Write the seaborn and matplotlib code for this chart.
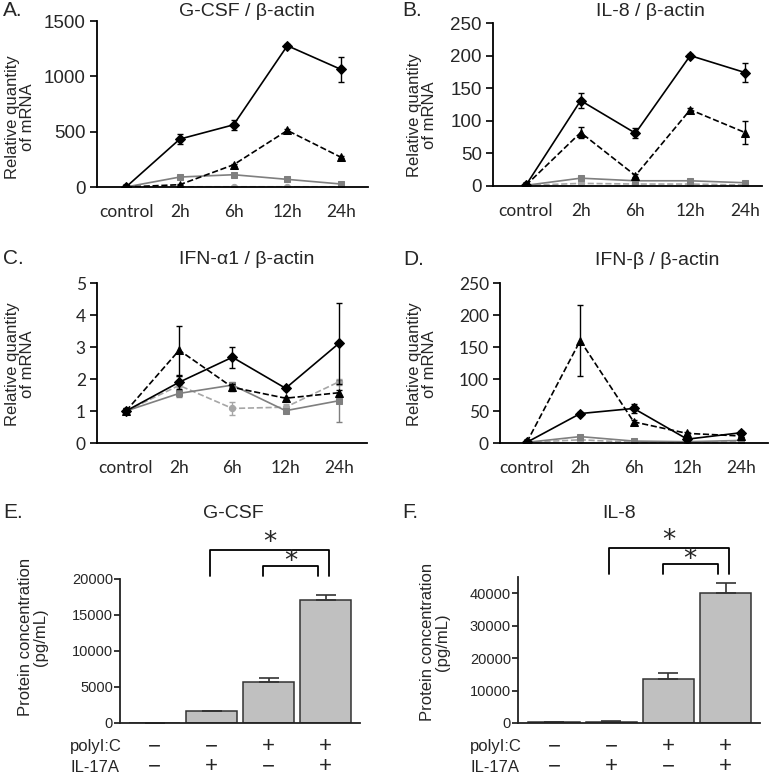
import numpy as np
import matplotlib
matplotlib.use("Agg")
import matplotlib.pyplot as plt
import matplotlib.transforms as mtransforms
import seaborn as sns

sns.set_theme(style="ticks")
plt.rcParams["font.family"] = ["Liberation Sans", "DejaVu Sans"]

# ---- data -------------------------------------------------------------
timepoints = ["control", "2h", "6h", "12h", "24h"]

# A. G-CSF / beta-actin (mRNA)
gcsf_combo = [0, 433, 562, 1277, 1062]
gcsf_combo_err = [5, 45, 45, 15, 115]
gcsf_polyic = [0, 21, 201, 511, 268]
gcsf_polyic_err = [2, 6, 8, 10, 8]
gcsf_il17 = [0, 90, 111, 69, 27]
gcsf_il17_err = [2, 6, 6, 5, 4]
gcsf_medium = [0, 2, 2, 2, 2]
gcsf_medium_err = [1, 1, 1, 1, 1]

# B. IL-8 / beta-actin (mRNA)
il8_combo = [1, 131, 81, 200, 174]
il8_combo_err = [0.5, 12, 8, 2, 14]
il8_polyic = [1, 82, 16, 117, 82]
il8_polyic_err = [0.5, 9, 2, 2, 17]
il8_il17 = [1, 12, 8, 8, 5]
il8_il17_err = [0.5, 2, 1, 1, 1]
il8_medium = [1, 4, 3, 3, 1.5]
il8_medium_err = [0.5, 1, 1, 1, 0.5]

# C. IFN-alpha1 / beta-actin (mRNA)
ifna_combo = [1.0, 1.90, 2.68, 1.71, 3.11]
ifna_combo_err = [0.1, 0.2, 0.33, 0.05, 1.27]
ifna_polyic = [1.0, 2.90, 1.74, 1.40, 1.57]
ifna_polyic_err = [0.05, 0.77, 0.1, 0.05, 0.1]
ifna_il17 = [1.0, 1.55, 1.81, 1.01, 1.32]
ifna_il17_err = [0.05, 0.1, 0.1, 0.05, 0.65]
ifna_medium = [1.0, 1.80, 1.08, 1.12, 1.91]
ifna_medium_err = [0.05, 0.3, 0.2, 0.1, 0.1]

# D. IFN-beta / beta-actin (mRNA)
ifnb_combo = [1, 46, 54, 6, 16]
ifnb_combo_err = [0.5, 2, 7, 1, 2]
ifnb_polyic = [1, 160, 33, 15, 11]
ifnb_polyic_err = [0.5, 56, 3, 2, 2]
ifnb_il17 = [1, 10, 3, 2, 4]
ifnb_il17_err = [0.5, 1, 1, 0.5, 1]
ifnb_medium = [1, 5, 1, 1, 2]
ifnb_medium_err = [0.5, 1, 0.5, 0.5, 0.5]

# E/F. protein (pg/mL)
conditions = ["medium", "IL-17A", "polyI:C", "polyI:C+IL-17A"]
polyic_sign = ["\u2212", "\u2212", "+", "+"]
il17_sign = ["\u2212", "+", "\u2212", "+"]
gcsf_protein = [30, 1600, 5650, 17050]
gcsf_protein_err = [0, 60, 600, 700]
il8_protein = [250, 400, 13450, 40100]
il8_protein_err = [100, 100, 1850, 3100]

# ---- styles -----------------------------------------------------------
# (color, linestyle, marker, markersize) for medium, IL-17A, polyI:C, combo
line_styles = [
    ("#a6a6a6", "--", "o", 4.5),
    ("#7f7f7f", "-", "s", 5),
    ("black", "--", "^", 5.5),
    ("black", "-", "D", 5),
]

W, H = 774, 780


def fx(px):
    return px / W


def fy(py):
    return 1 - py / H


def rect(l, r, t, b):
    return [fx(l), fy(b), (r - l) / W, (b - t) / H]


fig = plt.figure(figsize=(W / 100, H / 100), dpi=100)


def line_panel(box, series, xlim, ylim, yticks, tickfont):
    ax = fig.add_axes(box)
    x = np.arange(len(timepoints))
    for (vals, errs), (c, ls, m, ms) in zip(series, line_styles):
        sns.lineplot(x=x, y=vals, ax=ax, color=c, linestyle=ls, marker=m,
                     markersize=ms, markeredgecolor=c, markerfacecolor=c,
                     linewidth=1.2)
        ax.errorbar(x, vals, yerr=errs, fmt="none", ecolor=c, elinewidth=1,
                    capsize=2, capthick=1)
    ax.set_xlim(*xlim)
    ax.set_ylim(*ylim)
    ax.set_yticks(yticks)
    ax.set_xticks(x)
    ax.set_xticklabels(timepoints, family=["Lato", "DejaVu Sans"], fontsize=12.5)
    for lab in ax.get_yticklabels():
        lab.set_family(tickfont[0])
        lab.set_fontsize(tickfont[1])
    ax.tick_params(axis="x", length=0, pad=12)
    ax.tick_params(axis="y", length=5, width=1.2, color="black", pad=3,
                   direction="out")
    sns.despine(ax=ax)
    for s in ["left", "bottom"]:
        ax.spines[s].set_color("black")
        ax.spines[s].set_linewidth(1.3)
    ax.set_xlabel("")
    ax.set_ylabel("")
    return ax


arial = (["Liberation Sans", "DejaVu Sans"], 13.5)
calib = (["Lato", "DejaVu Sans"], 12.5)

axA = line_panel(rect(97, 368, 21, 187),
                 [(gcsf_medium, gcsf_medium_err), (gcsf_il17, gcsf_il17_err),
                  (gcsf_polyic, gcsf_polyic_err), (gcsf_combo, gcsf_combo_err)],
                 (-0.54, 4.5), (0, 1500), [0, 500, 1000, 1500], arial)
axB = line_panel(rect(493, 762, 23, 186),
                 [(il8_medium, il8_medium_err), (il8_il17, il8_il17_err),
                  (il8_polyic, il8_polyic_err), (il8_combo, il8_combo_err)],
                 (-0.6, 4.31), (0, 250), [0, 50, 100, 150, 200, 250], arial)
axC = line_panel(rect(97, 367, 283, 443),
                 [(ifna_medium, ifna_medium_err), (ifna_il17, ifna_il17_err),
                  (ifna_polyic, ifna_polyic_err), (ifna_combo, ifna_combo_err)],
                 (-0.545, 4.53), (0, 5), [0, 1, 2, 3, 4, 5], calib)
axD = line_panel(rect(500, 768, 283, 443),
                 [(ifnb_medium, ifnb_medium_err), (ifnb_il17, ifnb_il17_err),
                  (ifnb_polyic, ifnb_polyic_err), (ifnb_combo, ifnb_combo_err)],
                 (-0.5, 4.51), (0, 250), [0, 50, 100, 150, 200, 250], calib)


def bar_panel(box, vals, errs, ylim, yticks, xlim):
    ax = fig.add_axes(box)
    sns.barplot(x=conditions, y=vals, ax=ax, color="#c0c0c0", saturation=1,
                edgecolor="#333333", linewidth=1.1, width=0.9)
    x = np.arange(len(conditions))
    ax.errorbar(x, vals, yerr=[np.zeros(len(errs)), errs], fmt="none",
                ecolor="#333333", elinewidth=1.2, capsize=7, capthick=1.2)
    ax.set_xlim(*xlim)
    ax.set_ylim(*ylim)
    ax.set_yticks(yticks)
    ax.set_xticks([])
    ax.tick_params(axis="y", length=4, width=1.1, color="black", pad=1,
                   labelsize=10.5, direction="out")
    sns.despine(ax=ax)
    for s in ["left", "bottom"]:
        ax.spines[s].set_color("#222222")
        ax.spines[s].set_linewidth(1.3)
    ax.set_xlabel("")
    ax.set_ylabel("")

    tr = mtransforms.blended_transform_factory(ax.transData, ax.transAxes)
    # significance brackets: combo vs IL-17A (outer), combo vs polyI:C (inner)
    for i, j, top, dl, dr, star_y in [(1, 3, 1.20, -0.04, 0.06, 1.25),
                                      (2, 3, 1.09, -0.10, -0.14, 1.115)]:
        xl, xr = x[i] + dl, x[j] + dr
        ax.plot([xl, xl, xr, xr], [1.02, top, top, 1.02], color="black",
                lw=1.3, transform=tr, clip_on=False)
        ax.text((xl + xr) / 2, star_y, "*", transform=tr, ha="center",
                va="center", fontsize=19, family=["DejaVu Sans"])

    trf = mtransforms.blended_transform_factory(ax.transData, fig.transFigure)
    for k in range(len(conditions)):
        ax.text(x[k], fy(747), polyic_sign[k], transform=trf, ha="center",
                va="center", fontsize=16)
        ax.text(x[k], fy(767), il17_sign[k], transform=trf, ha="center",
                va="center", fontsize=16)
    return ax


axE = bar_panel(rect(120, 360, 579, 723), gcsf_protein, gcsf_protein_err,
                (0, 20000), [0, 5000, 10000, 15000, 20000], (-0.61, 3.6))
axF = bar_panel(rect(518, 760, 577, 723), il8_protein, il8_protein_err,
                (0, 45000), [0, 10000, 20000, 30000, 40000], (-0.63, 3.6))

# ---- text -------------------------------------------------------------
title_kw = dict(fontsize=14, ha="center", va="center")
letter_kw = dict(ha="left", va="center", fontsize=15)
fig.text(fx(3), fy(11), "A.", **letter_kw)
fig.text(fx(247), fy(11), "G-CSF / \u03b2-actin", **title_kw)
fig.text(fx(402), fy(11), "B.", **letter_kw)
fig.text(fx(650), fy(11), "IL-8 / \u03b2-actin", **title_kw)
fig.text(fx(3), fy(258), "C.", **letter_kw)
fig.text(fx(247), fy(259), "IFN-\u03b11 / \u03b2-actin", **title_kw)
fig.text(fx(403), fy(260), "D.", **letter_kw)
fig.text(fx(657), fy(261), "IFN-\u03b2 / \u03b2-actin", **title_kw)
fig.text(fx(3), fy(513), "E.", **letter_kw)
fig.text(fx(233), fy(513), "G-CSF", **title_kw)
fig.text(fx(402), fy(513), "F.", **letter_kw)
fig.text(fx(619), fy(513), "IL-8", **title_kw)

ylab_kw = dict(rotation=90, ha="center", va="center", fontsize=12,
               multialignment="center", linespacing=1.0)
fig.text(fx(20), fy(117), "Relative quantity\nof mRNA", **ylab_kw)
fig.text(fx(422), fy(115), "Relative quantity\nof mRNA", **ylab_kw)
fig.text(fx(20), fy(364), "Relative quantity\nof mRNA", **ylab_kw)
fig.text(fx(422), fy(364), "Relative quantity\nof mRNA", **ylab_kw)
fig.text(fx(33), fy(637), "Protein concentration\n(pg/mL)", **ylab_kw)
fig.text(fx(435), fy(642), "Protein concentration\n(pg/mL)", **ylab_kw)

for xl in (70, 470):
    fig.text(fx(xl), fy(747), "polyI:C", ha="left", va="center", fontsize=12)
    fig.text(fx(xl), fy(767), "IL-17A", ha="left", va="center", fontsize=12)

fig.savefig("out.png", dpi=100, facecolor="white")
